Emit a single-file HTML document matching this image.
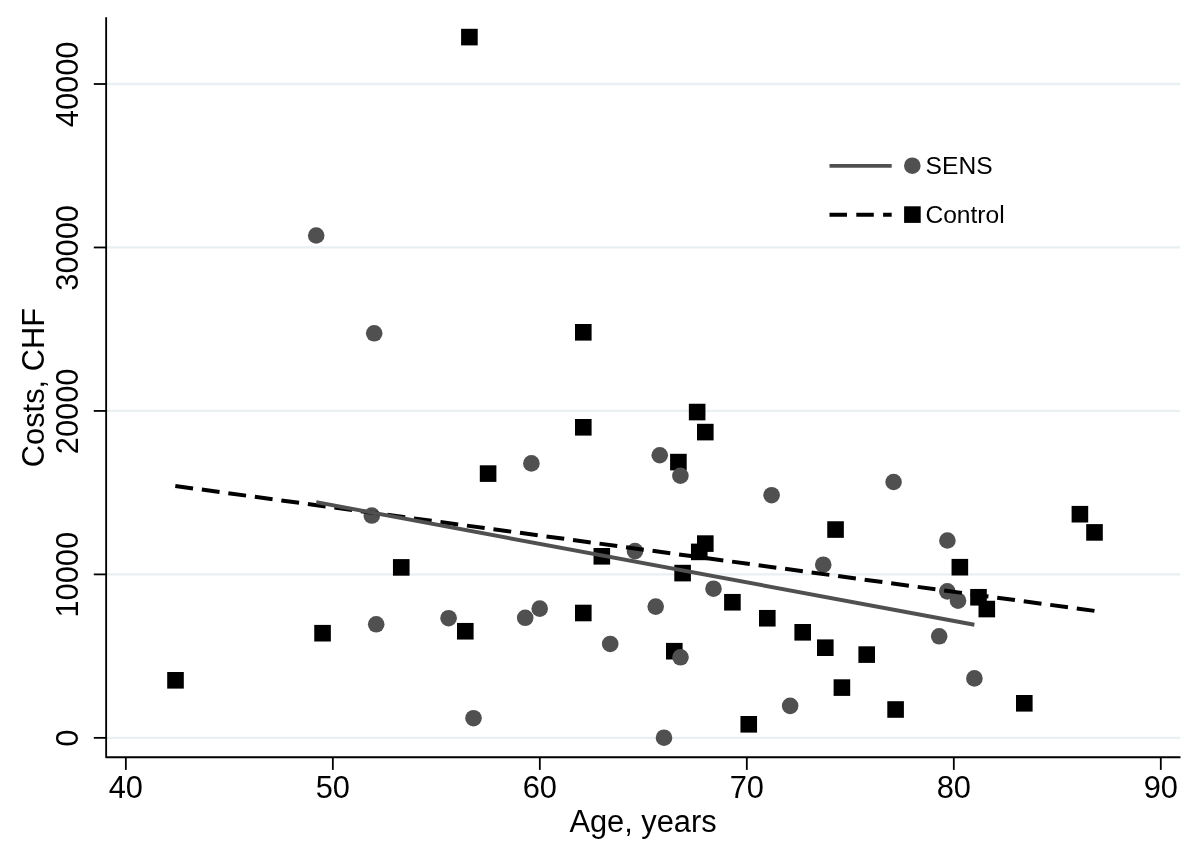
<!DOCTYPE html>
<html><head><meta charset="utf-8"><title>chart</title>
<style>
html,body{margin:0;padding:0;background:#fff;}
svg{display:block;will-change:transform;}
text{font-family:"Liberation Sans",sans-serif;fill:#000;}
</style></head><body>
<svg width="1200" height="857" viewBox="0 0 1200 857">
<rect x="0" y="0" width="1200" height="857" fill="#ffffff"/>
<line x1="106" y1="737.85" x2="1180.3" y2="737.85" stroke="#e8f0f2" stroke-width="2.3"/>
<line x1="106" y1="574.39" x2="1180.3" y2="574.39" stroke="#e8f0f2" stroke-width="2.3"/>
<line x1="106" y1="410.93" x2="1180.3" y2="410.93" stroke="#e8f0f2" stroke-width="2.3"/>
<line x1="106" y1="247.47" x2="1180.3" y2="247.47" stroke="#e8f0f2" stroke-width="2.3"/>
<line x1="106" y1="84.01" x2="1180.3" y2="84.01" stroke="#e8f0f2" stroke-width="2.3"/>
<g fill="#000">
<rect x="461.10" y="28.80" width="16.6" height="16.6"/>
<rect x="575.00" y="324.00" width="16.6" height="16.6"/>
<rect x="575.00" y="419.00" width="16.6" height="16.6"/>
<rect x="688.85" y="403.75" width="16.6" height="16.6"/>
<rect x="697.00" y="423.80" width="16.6" height="16.6"/>
<rect x="670.10" y="453.80" width="16.6" height="16.6"/>
<rect x="479.80" y="465.30" width="16.6" height="16.6"/>
<rect x="1071.60" y="505.90" width="16.6" height="16.6"/>
<rect x="1086.20" y="524.10" width="16.6" height="16.6"/>
<rect x="827.25" y="521.25" width="16.6" height="16.6"/>
<rect x="697.00" y="535.30" width="16.6" height="16.6"/>
<rect x="690.95" y="543.60" width="16.6" height="16.6"/>
<rect x="593.50" y="548.00" width="16.6" height="16.6"/>
<rect x="951.55" y="558.90" width="16.6" height="16.6"/>
<rect x="674.30" y="564.80" width="16.6" height="16.6"/>
<rect x="392.95" y="559.10" width="16.6" height="16.6"/>
<rect x="970.20" y="588.95" width="16.6" height="16.6"/>
<rect x="978.50" y="600.75" width="16.6" height="16.6"/>
<rect x="724.10" y="593.95" width="16.6" height="16.6"/>
<rect x="575.00" y="604.70" width="16.6" height="16.6"/>
<rect x="759.00" y="609.95" width="16.6" height="16.6"/>
<rect x="314.25" y="624.90" width="16.6" height="16.6"/>
<rect x="457.00" y="622.95" width="16.6" height="16.6"/>
<rect x="794.40" y="624.00" width="16.6" height="16.6"/>
<rect x="666.00" y="642.90" width="16.6" height="16.6"/>
<rect x="817.00" y="639.40" width="16.6" height="16.6"/>
<rect x="858.40" y="646.30" width="16.6" height="16.6"/>
<rect x="833.60" y="679.30" width="16.6" height="16.6"/>
<rect x="167.20" y="672.00" width="16.6" height="16.6"/>
<rect x="887.30" y="701.20" width="16.6" height="16.6"/>
<rect x="1016.00" y="695.00" width="16.6" height="16.6"/>
<rect x="740.45" y="716.00" width="16.6" height="16.6"/>
</g>
<g fill="#505050">
<circle cx="316.20" cy="235.50" r="8.3"/>
<circle cx="374.20" cy="333.30" r="8.3"/>
<circle cx="531.40" cy="463.40" r="8.3"/>
<circle cx="659.75" cy="455.25" r="8.3"/>
<circle cx="680.40" cy="475.75" r="8.3"/>
<circle cx="771.60" cy="495.20" r="8.3"/>
<circle cx="893.60" cy="482.00" r="8.3"/>
<circle cx="371.80" cy="515.55" r="8.3"/>
<circle cx="947.40" cy="540.50" r="8.3"/>
<circle cx="635.00" cy="551.10" r="8.3"/>
<circle cx="823.25" cy="564.70" r="8.3"/>
<circle cx="713.50" cy="588.70" r="8.3"/>
<circle cx="947.30" cy="591.35" r="8.3"/>
<circle cx="958.00" cy="600.70" r="8.3"/>
<circle cx="376.20" cy="624.30" r="8.3"/>
<circle cx="448.60" cy="618.20" r="8.3"/>
<circle cx="525.20" cy="617.80" r="8.3"/>
<circle cx="539.70" cy="608.60" r="8.3"/>
<circle cx="655.70" cy="606.60" r="8.3"/>
<circle cx="610.20" cy="643.95" r="8.3"/>
<circle cx="939.20" cy="636.30" r="8.3"/>
<circle cx="680.50" cy="657.30" r="8.3"/>
<circle cx="974.40" cy="678.40" r="8.3"/>
<circle cx="790.15" cy="705.85" r="8.3"/>
<circle cx="473.50" cy="718.20" r="8.3"/>
<circle cx="664.00" cy="737.70" r="8.3"/>
</g>
<line x1="175.3" y1="486.0" x2="1094.65" y2="610.9" stroke="#000" stroke-width="4" stroke-dasharray="17.9 8.857"/>
<line x1="316.3" y1="502.2" x2="974.4" y2="624.75" stroke="#505050" stroke-width="3.9"/>
<g stroke="#000" stroke-width="1.8" fill="none">
<polyline points="106.15,17.3 106.15,757.25 1180.5,757.25" stroke-width="1.85" stroke-linejoin="round"/>
<line x1="93.8" y1="737.85" x2="106" y2="737.85"/>
<line x1="93.8" y1="574.39" x2="106" y2="574.39"/>
<line x1="93.8" y1="410.93" x2="106" y2="410.93"/>
<line x1="93.8" y1="247.47" x2="106" y2="247.47"/>
<line x1="93.8" y1="84.01" x2="106" y2="84.01"/>
<line x1="125.85" y1="757" x2="125.85" y2="769.9"/>
<line x1="332.84" y1="757" x2="332.84" y2="769.9"/>
<line x1="539.83" y1="757" x2="539.83" y2="769.9"/>
<line x1="746.82" y1="757" x2="746.82" y2="769.9"/>
<line x1="953.81" y1="757" x2="953.81" y2="769.9"/>
<line x1="1160.80" y1="757" x2="1160.80" y2="769.9"/>
</g>
<g font-size="30.8px" text-anchor="middle">
<text x="125.85" y="798.0">40</text>
<text x="332.84" y="798.0">50</text>
<text x="539.83" y="798.0">60</text>
<text x="746.82" y="798.0">70</text>
<text x="953.81" y="798.0">80</text>
<text x="1160.80" y="798.0">90</text>
<text transform="translate(78.1,738.25) rotate(-90)">0</text>
<text transform="translate(78.1,574.79) rotate(-90)">10000</text>
<text transform="translate(78.1,411.33) rotate(-90)">20000</text>
<text transform="translate(78.1,247.87) rotate(-90)">30000</text>
<text transform="translate(78.1,84.41) rotate(-90)">40000</text>
<text x="643" y="831.7">Age, years</text>
<text transform="translate(44.2,387.6) rotate(-90)">Costs, CHF</text>
</g>
<line x1="829.5" y1="165.85" x2="891.7" y2="165.85" stroke="#505050" stroke-width="3.9"/>
<circle cx="912.3" cy="165.7" r="8.3" fill="#505050"/>
<line x1="829.5" y1="214.8" x2="891.7" y2="214.8" stroke="#000" stroke-width="4" stroke-dasharray="17.5 9.3"/>
<rect x="904.10" y="206.30" width="16.6" height="16.6" fill="#000"/>
<g font-size="24.6px">
<text x="925.6" y="174.2">SENS</text>
<text x="925.4" y="222.8">Control</text>
</g>
</svg>
</body></html>
